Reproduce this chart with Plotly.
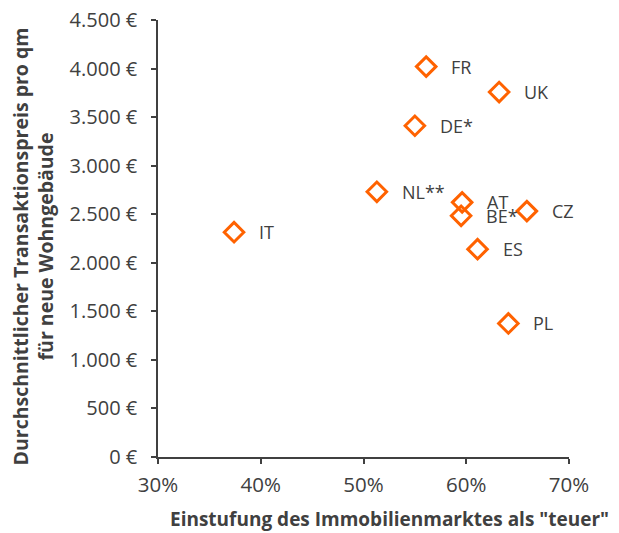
import plotly.graph_objects as go

countries = ["FR", "UK", "DE*", "NL**", "AT", "BE*", "CZ", "IT", "ES", "PL"]
share_expensive = [0.561, 0.632, 0.550, 0.513, 0.596, 0.595, 0.659, 0.374, 0.611, 0.641]
price_per_sqm = [4020, 3758, 3411, 2731, 2622, 2484, 2532, 2315, 2140, 1375]

x_ticks = [0.3, 0.4, 0.5, 0.6, 0.7]
x_ticklabels = ["30%", "40%", "50%", "60%", "70%"]
y_ticks = [0, 500, 1000, 1500, 2000, 2500, 3000, 3500, 4000, 4500]
y_ticklabels = ["0 €", "500 €", "1.000 €", "1.500 €", "2.000 €", "2.500 €",
                "3.000 €", "3.500 €", "4.000 €", "4.500 €"]

FONT = "Open Sans"
TXT = "#404040"
ORANGE = "#FF6200"

fig = go.Figure()
fig.add_trace(go.Scatter(
    x=share_expensive, y=price_per_sqm, mode="markers",
    marker=dict(symbol="diamond-open", size=15, color=ORANGE,
                line=dict(width=3, color=ORANGE)),
    hoverinfo="skip", showlegend=False,
))

annotations = []
for c, xv, yv in zip(countries, share_expensive, price_per_sqm):
    annotations.append(dict(x=xv, y=yv, xref="x", yref="y", text=c,
                            showarrow=False, xanchor="left", yanchor="middle",
                            xshift=23, font=dict(family=FONT, size=18, color=TXT)))

annotations.append(dict(x=0.563, y=0, xref="paper", yref="paper",
                        text="<b>Einstufung des Immobilienmarktes als \"teuer\"</b>",
                        showarrow=False, xanchor="center", yanchor="middle",
                        yshift=-62, borderpad=0,
                        font=dict(family=FONT, size=19, color=TXT)))
annotations.append(dict(x=0, y=0.4825, xref="paper", yref="paper",
                        text="<b>Durchschnittlicher Transaktionspreis pro qm<br>für neue Wohngebäude</b>",
                        showarrow=False, xanchor="center", yanchor="middle",
                        xshift=-124.7, textangle=-90,
                        font=dict(family=FONT, size=19.5, color=TXT)))

fig.update_layout(
    width=619, height=533,
    margin=dict(l=158, r=50, t=20, b=76, autoexpand=False),
    paper_bgcolor="white", plot_bgcolor="white",
    font=dict(family=FONT, color=TXT),
    annotations=annotations,
    xaxis=dict(range=[0.3, 0.7], tickvals=x_ticks, ticktext=x_ticklabels,
               automargin=False,
               showgrid=False, zeroline=False, showline=True,
               linecolor="#404040", linewidth=1.5, ticks="outside",
               ticklen=5, tickcolor="#404040", tickwidth=1.5,
               ticklabelstandoff=4,
               tickfont=dict(family=FONT, size=20.5, color=TXT)),
    yaxis=dict(range=[0, 4500], tickvals=y_ticks, ticktext=y_ticklabels,
               automargin=False,
               showgrid=False, zeroline=False, showline=True,
               linecolor="#404040", linewidth=1.5, ticks="outside",
               ticklen=5, tickcolor="#404040", tickwidth=1.5,
               ticklabelstandoff=10,
               tickfont=dict(family=FONT, size=20, color=TXT)),
)

fig.write_html("out.html", config={"displayModeBar": False},
               post_script="document.body.style.margin='0';document.body.style.overflow='hidden';")
